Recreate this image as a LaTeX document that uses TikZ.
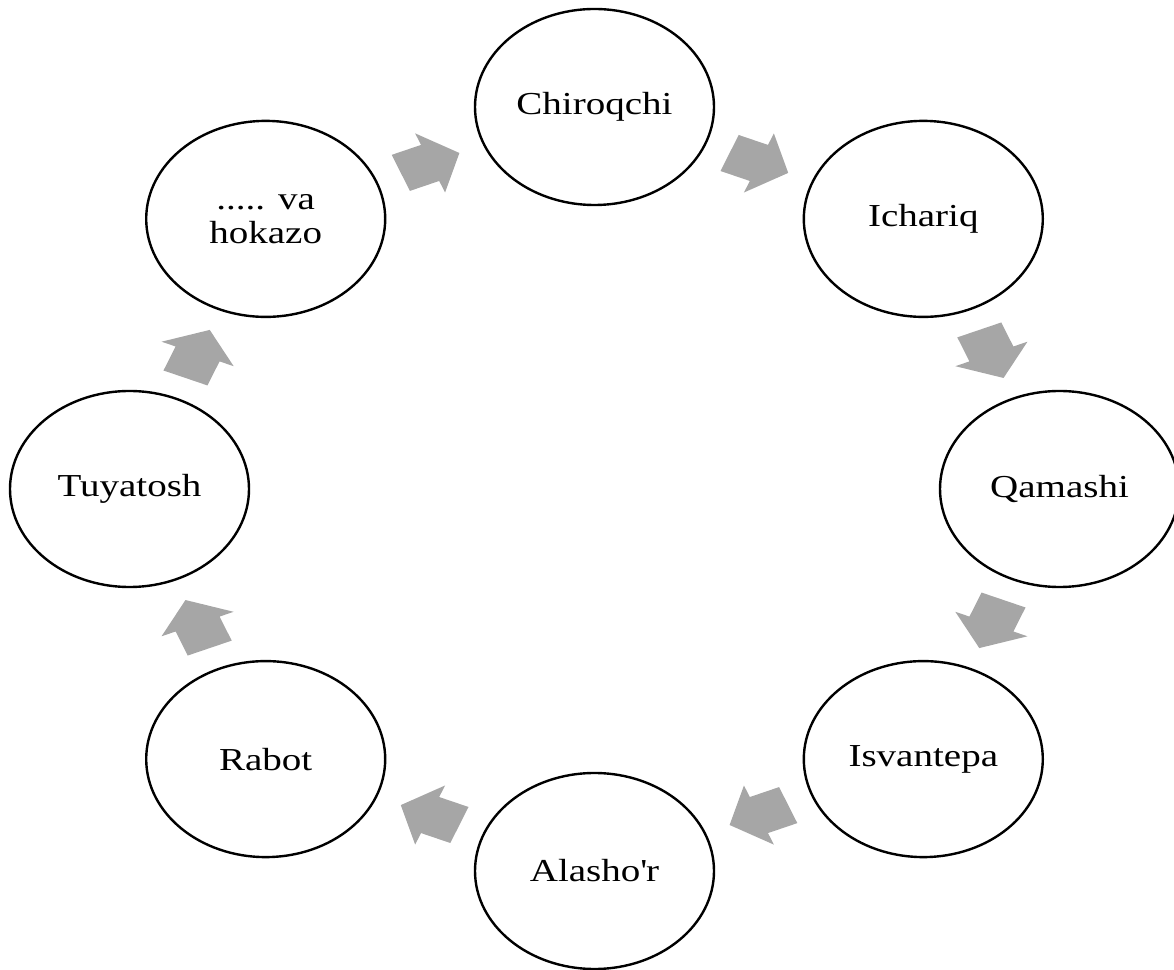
\documentclass[tikz,border=0pt]{standalone}
\usepackage{fontspec}
\setmainfont{Liberation Serif}[FakeStretch=1.22]
\usetikzlibrary{shapes.geometric,calc}
\definecolor{arrowgray}{HTML}{A6A6A6}
\newcommand{\straightquote}{\XeTeXglyph\XeTeXcharglyph"27\relax}
\begin{document}
\begin{tikzpicture}[x=1pt,y=1pt,
  place/.style={draw, ellipse, line width=2.4pt, minimum width=239pt, minimum height=196pt,
    inner sep=0pt, font=\fontsize{32}{34}\selectfont, align=center},
  blockarrow/.style={fill=arrowgray, draw=none}]
\useasboundingbox (0,0) rectangle (1174,969);
\node[place] (chiroqchi) at (594.5,862)   {Chiroqchi};
\node[place] (ichariq)   at (923.3,750.1) {Ichariq};
\node[place] (qamashi)   at (1059.5,480)  {Qamashi};
\node[place] (isvantepa) at (923.3,209.9) {Isvantepa};
\node[place] (alashor)   at (594.5,98)    {Alasho\straightquote r};
\node[place] (rabot)     at (265.7,209.9) {Rabot};
\node[place] (tuyatosh)  at (129.5,480)   {Tuyatosh};
\node[place] (hokazo)    at (265.7,750.1) {..... va\\hokazo};
\foreach \a/\b/\ang in {hokazo/chiroqchi/22.5, chiroqchi/ichariq/-22.5, ichariq/qamashi/-67.5,
  qamashi/isvantepa/-112.5, isvantepa/alashor/-157.5, alashor/rabot/157.5,
  rabot/tuyatosh/112.5, tuyatosh/hokazo/67.5}{
  \fill[blockarrow, shift={($(\a.center)!0.5!(\b.center)$)}, xscale=1.22, rotate=\ang]
    (-26,-19.5) -- (0,-19.5) -- (0,-32) -- (26,0) -- (0,32) -- (0,19.5) -- (-26,19.5) -- cycle;
}
\end{tikzpicture}
\end{document}
